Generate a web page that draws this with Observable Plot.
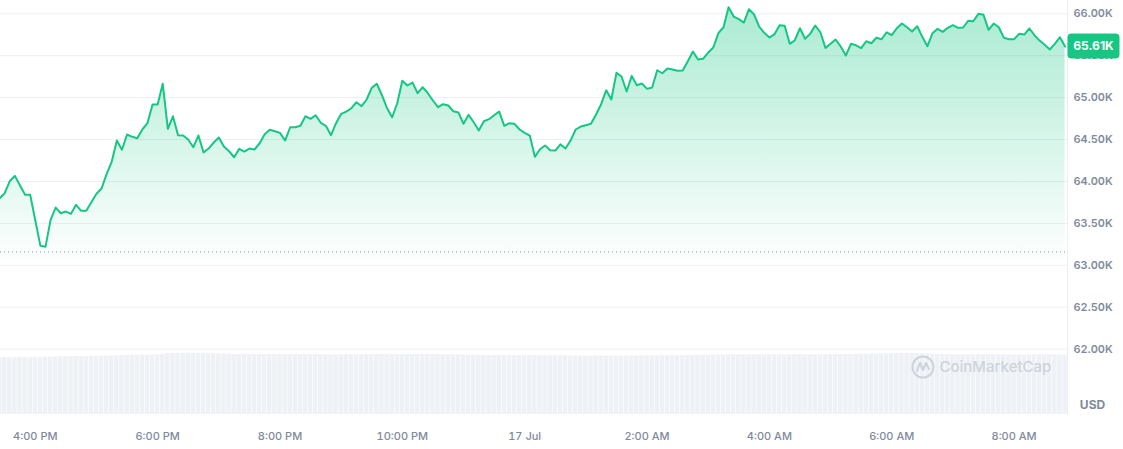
<!DOCTYPE html>
<html><head><meta charset="utf-8">
<script src="https://cdn.jsdelivr.net/npm/d3@7"></script>
<script src="https://cdn.jsdelivr.net/npm/@observablehq/plot@0.6"></script>
<style>
html,body{margin:0;padding:0;background:#fff;}
#chart{position:relative;width:1123px;height:449px;overflow:hidden;font-family:Inter,"Noto Sans",sans-serif;}
#chart svg{position:absolute;left:0;top:0;}
</style></head><body><div id="chart"></div>
<script>
// ---------- DATA ----------
const startTime = "2024-07-16T15:25:00Z";   // first sample, one sample every 5 minutes
const stepMinutes = 5;
const prices = [
63800, 63860, 64005, 64067, 63952, 63841, 63841, 63534, 63232, 63220, 63542,
63689, 63621, 63641, 63614, 63721, 63650, 63650, 63752, 63853, 63916,
64091, 64238, 64488, 64378, 64560, 64533, 64516, 64620, 64695, 64918,
64918, 65165, 64628, 64778, 64552, 64548, 64500, 64409, 64548, 64345,
64393, 64465, 64524, 64417, 64361, 64289, 64389, 64357, 64393, 64381,
64456, 64564, 64616, 64599, 64580, 64488, 64647, 64647, 64664, 64778,
64747, 64790, 64700, 64664, 64552, 64695, 64807, 64834, 64874, 64945,
64898, 64978, 65117, 65165, 65029, 64874, 64766, 64933, 65201, 65145,
65180, 65053, 65124, 65053, 64966, 64886, 64922, 64906, 64838, 64823,
64688, 64795, 64707, 64608, 64719, 64743, 64790, 64834, 64664, 64695,
64688, 64620, 64580, 64548, 64294, 64385, 64429, 64373, 64369, 64444,
64393, 64488, 64620, 64655, 64671, 64688, 64799, 64922, 65089, 64978,
65296, 65252, 65073, 65260, 65148, 65168, 65105, 65121, 65327, 65291,
65347, 65335, 65320, 65324, 65435, 65550, 65455, 65463, 65538, 65598,
65769, 65840, 66079, 65968, 65936, 65896, 66055, 65992, 65848, 65773,
65717, 65757, 65864, 65857, 65642, 65685, 65828, 65702, 65761, 65860,
65780, 65594, 65642, 65693, 65610, 65503, 65642, 65625, 65590, 65673,
65649, 65714, 65697, 65780, 65745, 65828, 65884, 65840, 65789, 65852,
65726, 65613, 65769, 65821, 65785, 65833, 65864, 65833, 65837, 65916,
65912, 66000, 65988, 65809, 65884, 65840, 65714, 65697, 65697, 65761,
65753, 65825, 65745, 65681, 65630, 65574, 65642, 65721, 65610
];
// 24h volume, billions USD
const volumes24h = [
29.4,29.4,29.3,29.4,29.4,29.3,29.4,29.5,29.5,
29.6,29.7,29.7,29.8,29.8,29.9,29.9,30.0,30.0,30.1,30.1,30.2,30.2,30.3,30.3,30.4,30.4,
30.6,30.6,30.7,30.6,30.7,30.8,31.0,
31.4,31.5,31.6,31.6,31.7,31.7,31.6,31.6,31.5,31.4,31.3,31.2,
31.1,31.0,31.0,31.1,31.0,31.0,31.0,30.9,31.0,31.0,31.1,31.0,31.0,30.9,30.9,31.0,31.0,30.9,30.9,30.8,30.8,
30.8,30.8,30.9,30.8,30.8,30.8,30.9,30.9,31.0,31.0,31.1,31.0,31.0,31.0,
31.0,31.0,31.1,31.0,31.0,30.9,30.9,30.9,30.8,30.8,30.8,30.7,30.7,30.6,
30.6,30.5,30.5,30.5,30.4,30.5,30.5,30.4,30.4,30.5,30.5,30.4,30.4,30.4,30.3,30.3,30.3,30.3,
30.2,30.2,30.2,30.1,30.2,30.2,30.2,30.1,30.1,30.2,30.2,30.2,30.2,30.3,30.3,30.3,30.3,30.3,30.4,30.4,30.4,30.4,30.5,30.5,30.5,30.6,30.6,30.6,30.7,30.7,30.7,
30.8,30.8,30.8,30.8,30.8,30.9,30.8,30.8,30.8,30.8,30.8,30.8,30.8,30.9,30.9,30.8,30.8,30.8,30.8,30.8,30.9,30.9,30.9,30.9,31.0,31.0,31.1,31.1,31.2,31.2,31.3,
31.4,31.5,31.5,31.6,31.6,31.5,31.5,31.4,31.3,31.2,31.1,
31.0,30.9,30.9,30.8,30.8,30.8,30.8,30.8,30.9,30.9,30.8,30.8,30.8,30.8,30.8,30.8,30.7,30.7,30.8,30.8,30.8,30.8,30.7,30.7,30.7
];
const baselinePrice = 63160;
const priceTicks = [62000, 62500, 63000, 63500, 64000, 64500, 65000, 65500, 66000];
const timeTicks = ["2024-07-16T16:00:00Z","2024-07-16T18:00:00Z","2024-07-16T20:00:00Z","2024-07-16T22:00:00Z",
  "2024-07-17T00:00:00Z","2024-07-17T02:00:00Z","2024-07-17T04:00:00Z","2024-07-17T06:00:00Z","2024-07-17T08:00:00Z"];
const timeTickLabels = ["4:00 PM","6:00 PM","8:00 PM","10:00 PM","17 Jul","2:00 AM","4:00 AM","6:00 AM","8:00 AM"];
const timeDomain = ["2024-07-16T15:25:52Z","2024-07-17T08:52:24Z"];
const priceDomain = [61220, 66159];
const volumeDomain = [0, 32];
const currencyLabel = "USD";
const watermark = "CoinMarketCap";

// ---------- CHART ----------
const W = 1123, H = 449, MR = 56, MB = 35;
const GREEN = "#16c784";
const t0 = new Date(startTime).getTime();
const data = prices.map((p, i) => ({t: new Date(t0 + i * stepMinutes * 60000), price: p, vol: volumes24h[i] ?? volumes24h[volumes24h.length - 1]}));
const half = stepMinutes * 30000;
const xOpt = {type: "utc", domain: timeDomain.map(d => new Date(d))};
const labelMap = new Map(timeTicks.map((d, i) => [+new Date(d), timeTickLabels[i]]));

const volPlot = Plot.plot({
  width: W, height: H, marginLeft: 0, marginRight: MR, marginTop: 352, marginBottom: MB,
  x: {...xOpt, axis: null}, y: {domain: volumeDomain, axis: null},
  style: {background: "transparent"},
  marks: [
    Plot.rectY(data, {x1: d => new Date(+d.t - half), x2: d => new Date(+d.t + half), y: "vol", fill: "#eef1f5", insetLeft: 0.3, insetRight: 0.3, clip: true})
  ]
});

const pricePlot = Plot.plot({
  width: W, height: H, marginLeft: 0, marginRight: MR, marginTop: 0, marginBottom: MB,
  x: {...xOpt, label: null}, y: {domain: priceDomain, label: null},
  style: {background: "transparent", fontFamily: "Inter, 'Noto Sans', sans-serif", fontSize: "11px", fontWeight: 500},
  marks: [
    Plot.ruleY(priceTicks, {stroke: "#eceff3", strokeWidth: 1}),
    Plot.areaY(data, {x: "t", y1: 63000, y2: "price", fill: "url(#priceGrad)", clip: true}),
    Plot.ruleY([baselinePrice], {stroke: "#8b93a1", strokeDasharray: "1,3", strokeWidth: 1}),
    Plot.lineY(data, {x: "t", y: "price", stroke: GREEN, strokeWidth: 2, clip: true}),
    Plot.frame({anchor: "right", stroke: "#eceff3"}),
    Plot.axisY(priceTicks, {anchor: "right", label: null, tickSize: 0, tickPadding: 6, textAnchor: "start",
      tickFormat: d => (d / 1000).toFixed(2) + "K", fill: "#808a9d", fontSize: 11, fontWeight: 600}),
    Plot.axisX(timeTicks.map(d => new Date(d)), {anchor: "bottom", label: null, tickSize: 0, tickPadding: 18,
      tickFormat: d => labelMap.get(+d), fill: "#808a9d", fontSize: 11, fontWeight: 500}),
    Plot.text([currencyLabel], {frameAnchor: "bottom-right", dx: 25, dy: -9, textAnchor: "middle", lineAnchor: "middle",
      fill: "#808a9d", fontSize: 12, fontWeight: 700}),
    Plot.text([watermark], {frameAnchor: "bottom-right", dx: -128, dy: -47, textAnchor: "start", lineAnchor: "middle",
      fill: "#cdd3dd", fontSize: 15, fontWeight: 500})
  ]
});

const svg = d3.select(pricePlot);
const grad = svg.insert("defs", ":first-child").append("linearGradient")
  .attr("id", "priceGrad").attr("x1", 0).attr("y1", 0).attr("x2", 0).attr("y2", 1);
grad.append("stop").attr("offset", "0%").attr("stop-color", GREEN).attr("stop-opacity", 0.36);
grad.append("stop").attr("offset", "100%").attr("stop-color", GREEN).attr("stop-opacity", 0.0);

// watermark logo
const logo = svg.append("g").attr("transform", `translate(${W - MR - 144},${H - MB - 47})`)
  .attr("fill", "none").attr("stroke", "#cdd3dd").attr("stroke-width", 2).attr("stroke-linecap", "round").attr("stroke-linejoin", "round");
logo.append("circle").attr("r", 10.5);
logo.append("path").attr("d", "M-6,4 L-3,-4 L0,3 L3,-4 L6,2");

// last price tag
const yS = pricePlot.scale("y");
const last = prices[prices.length - 1];
const yy = yS.apply(last);
const tag = svg.append("g");
tag.append("rect").attr("x", W - MR + 0.5).attr("y", yy - 12.5).attr("width", 52).attr("height", 25).attr("rx", 4).attr("fill", GREEN);
tag.append("text").attr("x", W - MR + 26.5).attr("y", yy).attr("dy", "0.35em").attr("text-anchor", "middle")
  .attr("fill", "#fff").attr("font-size", 12).attr("font-weight", 700).text((last / 1000).toFixed(2) + "K");

const chart = document.getElementById("chart");
chart.append(volPlot);
chart.append(pricePlot);
</script></body></html>
